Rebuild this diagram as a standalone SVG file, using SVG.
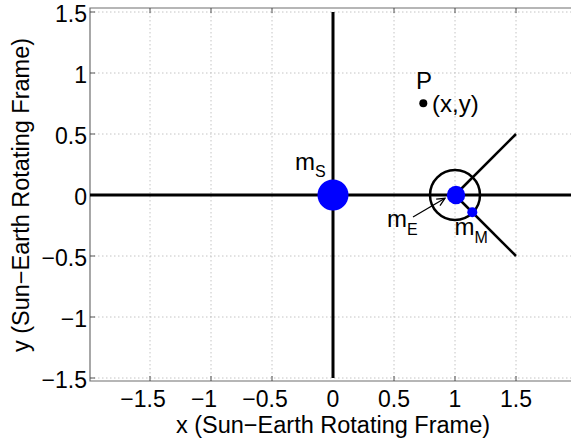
<svg xmlns="http://www.w3.org/2000/svg" width="571" height="443" viewBox="0 0 571 443">
<style>
text{font-family:"Liberation Sans",Arial,sans-serif;fill:#000}
.tk{font-size:23px}
.xt{text-anchor:middle}
.yt{text-anchor:end}
.lbl{font-size:24px}
.sub{font-size:16px}
.grid line{stroke:#c4c4c4;stroke-width:1;stroke-dasharray:1.5 2.5}
.ticks line{stroke:#555;stroke-width:1}
.frame{fill:none;stroke:#6e6e6e;stroke-width:1.2}
.axisline{stroke:#000;stroke-width:3}
.ray{stroke:#000;stroke-width:2.5}
</style>
<defs>
<marker id="arr" markerUnits="userSpaceOnUse" markerWidth="12" markerHeight="12" viewBox="0 0 12 10" refX="10" refY="5" orient="auto" overflow="visible">
<path d="M2,1.2 L10,5 L2,8.8" fill="none" stroke="#000" stroke-width="1.3"/>
</marker>
</defs>
<rect width="571" height="443" fill="#fff"/>
<g id="grid" class="grid">
<line x1="150" y1="8" x2="150" y2="381"/>
<line x1="211" y1="8" x2="211" y2="381"/>
<line x1="272" y1="8" x2="272" y2="381"/>
<line x1="394" y1="8" x2="394" y2="381"/>
<line x1="455" y1="8" x2="455" y2="381"/>
<line x1="516" y1="8" x2="516" y2="381"/>
<line x1="90" y1="12" x2="571" y2="12"/>
<line x1="90" y1="73" x2="571" y2="73"/>
<line x1="90" y1="134" x2="571" y2="134"/>
<line x1="90" y1="256" x2="571" y2="256"/>
<line x1="90" y1="317" x2="571" y2="317"/>
<line x1="90" y1="378" x2="571" y2="378"/>
</g>
<g id="frame">
<path class="frame" d="M576,8 H90 V381 H576"/>
<g class="ticks">
<line x1="150" y1="8" x2="150" y2="13"/><line x1="150" y1="381" x2="150" y2="376"/>
<line x1="211" y1="8" x2="211" y2="13"/><line x1="211" y1="381" x2="211" y2="376"/>
<line x1="272" y1="8" x2="272" y2="13"/><line x1="272" y1="381" x2="272" y2="376"/>
<line x1="394" y1="8" x2="394" y2="13"/><line x1="394" y1="381" x2="394" y2="376"/>
<line x1="455" y1="8" x2="455" y2="13"/><line x1="455" y1="381" x2="455" y2="376"/>
<line x1="516" y1="8" x2="516" y2="13"/><line x1="516" y1="381" x2="516" y2="376"/>
<line x1="90" y1="12" x2="95" y2="12"/>
<line x1="90" y1="73" x2="95" y2="73"/>
<line x1="90" y1="134" x2="95" y2="134"/>
<line x1="90" y1="256" x2="95" y2="256"/>
<line x1="90" y1="317" x2="95" y2="317"/>
<line x1="90" y1="378" x2="95" y2="378"/>
</g>
</g>
<g id="tick-labels" class="tk">
<text class="xt" x="143" y="407">−1.5</text>
<text class="xt" x="204" y="407">−1</text>
<text class="xt" x="265" y="407">−0.5</text>
<text class="xt" x="333" y="407">0</text>
<text class="xt" x="394" y="407">0.5</text>
<text class="xt" x="455" y="407">1</text>
<text class="xt" x="516" y="407">1.5</text>
<text class="yt" x="87" y="22">1.5</text>
<text class="yt" x="87" y="83">1</text>
<text class="yt" x="87" y="144">0.5</text>
<text class="yt" x="87" y="205">0</text>
<text class="yt" x="87" y="266">−0.5</text>
<text class="yt" x="87" y="327">−1</text>
<text class="yt" x="87" y="388">−1.5</text>
</g>
<g id="axis-titles" class="tk">
<text x="333" y="432.5" text-anchor="middle" font-size="23.5">x (Sun−Earth Rotating Frame)</text>
<text transform="translate(29,195) rotate(-90)" text-anchor="middle" font-size="23.5">y (Sun−Earth Rotating Frame)</text>
</g>
<g id="connectors">
<line class="axisline" x1="90" y1="195" x2="576" y2="195"/>
<line class="axisline" x1="333" y1="12" x2="333" y2="378"/>
<line class="ray" x1="455" y1="195" x2="516" y2="134"/>
<line class="ray" x1="455" y1="195" x2="516" y2="256"/>
<line x1="413" y1="217" x2="445" y2="198.3" stroke="#000" stroke-width="1.3" marker-end="url(#arr)"/>
</g>
<g id="sun">
<circle cx="333" cy="195" r="15.5" fill="#0000ff"/>
<text class="lbl" x="295" y="169.5">m<tspan class="sub" dy="7">S</tspan></text>
</g>
<g id="earth">
<circle cx="455" cy="195" r="25" fill="none" stroke="#000" stroke-width="2.5"/>
<circle cx="456" cy="195" r="9.2" fill="#0000ff"/>
<text class="lbl" x="387" y="227">m<tspan class="sub" dy="8">E</tspan></text>
</g>
<g id="moon">
<circle cx="472.3" cy="212.3" r="5" fill="#0000ff"/>
<text class="lbl" x="454.5" y="235">m<tspan class="sub" dy="7.5">M</tspan></text>
</g>
<g id="point-p">
<circle cx="423.3" cy="103.3" r="4" fill="#000"/>
<text class="lbl" x="416" y="89">P</text>
<text class="lbl" x="432" y="112">(x,y)</text>
</g>
</svg>
